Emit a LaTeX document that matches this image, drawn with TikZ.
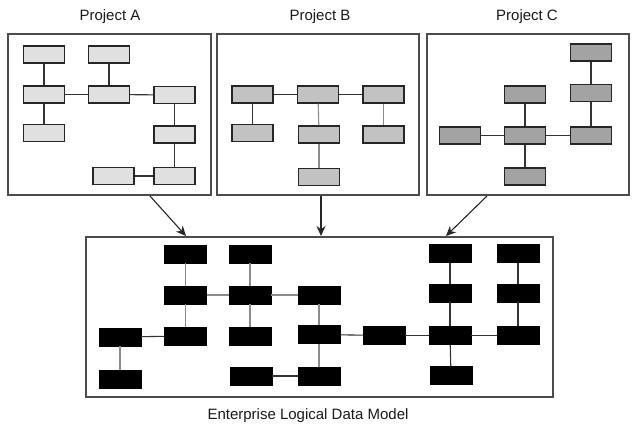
\documentclass[tikz,border=0pt]{standalone}
\usepackage{fontspec}
\setmainfont{Liberation Sans}
\usetikzlibrary{arrows.meta}
\begin{document}
\begin{tikzpicture}[x=1pt,y=-1pt,
  frame/.style={draw=black!70,line width=1.2pt},
  ent/.style={draw=black!85,line width=1.2pt,minimum width=41pt,minimum height=17pt,inner sep=0pt},
  entA/.style={ent,fill=black!12},
  entB/.style={ent,fill=black!24},
  entC/.style={ent,fill=black!36},
  entE/.style={draw=black,fill=black,minimum width=42pt,minimum height=18pt,inner sep=0pt},
  lnk/.style={draw=black!80,line width=1.1pt},
  lnklight/.style={draw=black!45,line width=1.1pt},
  flow/.style={draw=black!85,line width=1.1pt,-{Stealth[length=10pt,width=9pt]}},
  title/.style={font=\fontsize{15}{18}\selectfont,text=black!90}
]
\useasboundingbox (0,0) rectangle (640,434);
% frames
\node[frame,minimum width=203pt,minimum height=161pt,inner sep=0pt] (fA) at (109.5,114.5) {};
\node[frame,minimum width=202pt,minimum height=161pt,inner sep=0pt] (fB) at (318,114.5) {};
\node[frame,minimum width=202pt,minimum height=161pt,inner sep=0pt] (fC) at (528,114.5) {};
\node[frame,minimum width=467pt,minimum height=160pt,inner sep=0pt] (fE) at (319.5,317) {};
% titles
\node[title] (tA) at (110,17) {Project A};
\node[title] (tB) at (320,17) {Project B};
\node[title] (tC) at (527,17) {Project C};
\node[title] (tE) at (308,416) {Enterprise Logical Data Model};
% Project A
\node[entA] (a1) at (44,54.5) {};
\node[entA] (a2) at (109,54.5) {};
\node[entA] (a3) at (44,94.5) {};
\node[entA] (a4) at (109,94.5) {};
\node[entA] (a5) at (174.5,95) {};
\node[entA] (a6) at (44,133) {};
\node[entA] (a7) at (174.5,134.5) {};
\node[entA] (a8) at (113.5,176) {};
\node[entA] (a9) at (174.5,176) {};
\draw[lnk] (a1) -- (a3);
\draw[lnk] (a3) -- (a6);
\draw[lnk] (a2) -- (a4);
\draw[lnk] (a3) -- (a4);
\draw[lnk] (a4) -- (a5);
\draw[lnk] (a5) -- (a7);
\draw[lnk] (a7) -- (a9);
\draw[lnk] (a8) -- (a9);
% Project B
\node[entB] (b1) at (252.5,94.5) {};
\node[entB] (b2) at (318,94.5) {};
\node[entB] (b3) at (383.5,94.5) {};
\node[entB] (b4) at (252.5,133) {};
\node[entB] (b5) at (319,134.5) {};
\node[entB] (b6) at (383.5,134.5) {};
\node[entB] (b7) at (319,177) {};
\draw[lnk] (b1) -- (b2);
\draw[lnk] (b2) -- (b3);
\draw[lnk] (b1) -- (b4);
\draw[lnklight] (b2) -- (b5);
\draw[lnklight] (b5) -- (b7);
\draw[lnklight] (b3) -- (b6);
% Project C
\node[entC] (c1) at (591,52.5) {};
\node[entC] (c2) at (591,93) {};
\node[entC] (c3) at (525,94.5) {};
\node[entC] (c4) at (460,135.5) {};
\node[entC] (c5) at (525,135.5) {};
\node[entC] (c6) at (591,135.5) {};
\node[entC] (c7) at (525,176.5) {};
\draw[lnk] (c1) -- (c2);
\draw[lnk] (c2) -- (c6);
\draw[lnk] (c3) -- (c5);
\draw[lnk] (c4) -- (c5);
\draw[lnk] (c5) -- (c6);
\draw[lnk] (c5) -- (c7);
% Enterprise
\node[entE] (e1) at (185.5,254) {};
\node[entE] (e2) at (250,254) {};
\node[entE] (e3) at (185.5,295) {};
\node[entE] (e4) at (250,295) {};
\node[entE] (e5) at (319,295) {};
\node[entE] (e6) at (120,337) {};
\node[entE] (e7) at (185.5,336) {};
\node[entE] (e8) at (250,336) {};
\node[entE] (e9) at (319,334.5) {};
\node[entE] (e10) at (120,379) {};
\node[entE] (e11) at (251,376) {};
\node[entE] (e12) at (319,376) {};
\node[entE] (e13) at (450,253.5) {};
\node[entE] (e14) at (518,253.5) {};
\node[entE] (e15) at (450,293) {};
\node[entE] (e16) at (518,293) {};
\node[entE] (e17) at (384,335.5) {};
\node[entE] (e18) at (450,335.5) {};
\node[entE] (e19) at (518,335.5) {};
\node[entE] (e20) at (451,375.5) {};
\draw[lnklight] (e1) -- (e3);
\draw[lnklight] (e3) -- (e7);
\draw[lnklight] (e2) -- (e4);
\draw[lnklight] (e4) -- (e8);
\draw[lnklight] (e3) -- (e4);
\draw[lnklight] (e4) -- (e5);
\draw[lnklight] (e5) -- (e9);
\draw[lnklight] (e9) -- (e12);
\draw[lnklight] (e6) -- (e10);
\draw[lnk] (e6) -- (e7);
\draw[lnk] (e11) -- (e12);
\draw[lnk] (e9) -- (e17);
\draw[lnk] (e17) -- (e18);
\draw[lnk] (e13) -- (e15);
\draw[lnk] (e15) -- (e18);
\draw[lnk] (e18) -- (e20);
\draw[lnk] (e18) -- (e19);
\draw[lnk] (e14) -- (e16);
\draw[lnk] (e16) -- (e19);
% flows
\coordinate (sA) at (150,196);
\coordinate (tAe) at (186,236);
\coordinate (sB) at (321,196);
\coordinate (tBe) at (321,236);
\coordinate (sC) at (487,196);
\coordinate (tCe) at (446,236);
\draw[flow] (sA) -- (tAe);
\draw[flow] (sB) -- (tBe);
\draw[flow] (sC) -- (tCe);
\end{tikzpicture}
\end{document}
